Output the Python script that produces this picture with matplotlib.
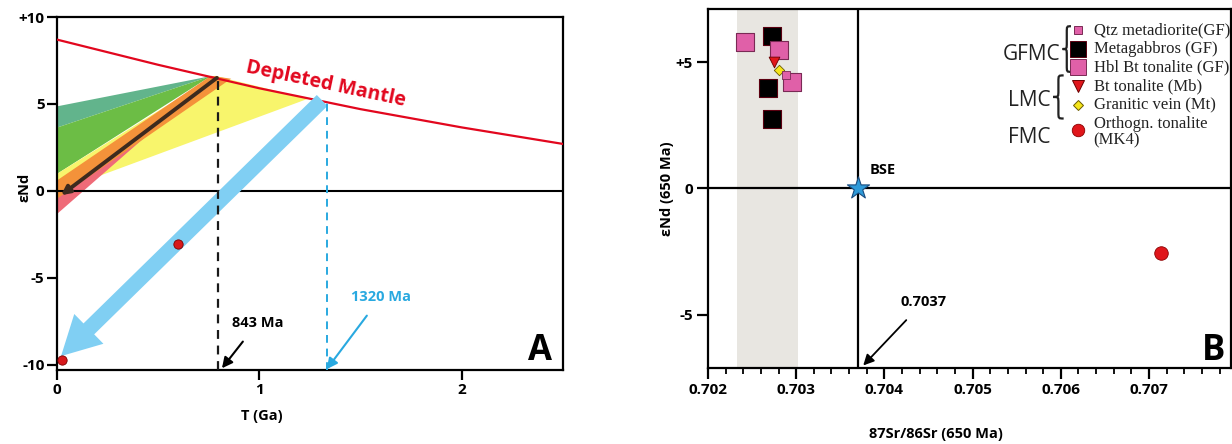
import matplotlib
matplotlib.use("Agg")
import matplotlib.pyplot as plt
from matplotlib.path import Path
from matplotlib.patches import PathPatch, Polygon

# ---------------------------------------------------------------------------
# Panel A data (T in Ga, epsilon Nd)
# ---------------------------------------------------------------------------
DM_T = [0.0, 0.5, 1.0, 1.5, 2.0, 2.5]
DM_EPS = [8.7, 7.25, 5.9, 4.7, 3.65, 2.7]

TEAL_BAND = [(0.0, 4.86), (0.76, 6.6), (0.0, 3.64)]
GREEN_BAND = [(0.0, 3.64), (0.76, 6.6), (0.0, 0.98)]
YELLOW_BAND = [(0.0, 0.98), (0.78, 6.62), (1.24, 5.3), (0.0, -0.04)]
PINK_BAND = [(0.0, 0.2), (0.0, -1.33), (0.78, 6.6)]
ORANGE_BAND = [(0.0, 0.6), (0.76, 6.62), (0.86, 6.45), (0.0, -0.45)]

DARK_ARROW = [(0.79, 6.5), (0.02, -0.25)]
BLUE_ARROW = [(1.31, 5.2), (0.02, -9.5)]
SAMPLE_T = [0.6, 0.025]
SAMPLE_EPS = [-3.06, -9.7]

T_843 = 0.795
T_1320 = 1.333
TOP_843 = 6.5
TOP_1320 = 5.2

# ---------------------------------------------------------------------------
# Panel B data (87Sr/86Sr, epsilon Nd at 650 Ma)
# ---------------------------------------------------------------------------
SR_GABBRO = [0.70272, 0.70268, 0.70272]
ND_GABBRO = [6.04, 3.96, 2.76]
SR_HBL = [0.70242, 0.70281, 0.70295]
ND_HBL = [5.80, 5.48, 4.20]
SR_QTZ = [0.70288]
ND_QTZ = [4.48]
SR_BT = [0.70275]
ND_BT = [5.0]
SR_VEIN = [0.70281]
ND_VEIN = [4.68]
SR_ORTHO = [0.70714]
ND_ORTHO = [-2.55]
BSE_SR, BSE_ND = 0.7037, 0.0
BAND_SR = (0.70233, 0.70302)

SANS = ["Open Sans", "DejaVu Sans"]
SERIF = ["Liberation Serif", "DejaVu Serif"]

RED = "#e2071e"
CYAN = "#29a9e0"
PINK = "#e060a8"

plt.rcParams["font.family"] = SANS
plt.rcParams["font.weight"] = "bold"

fig = plt.figure(figsize=(12.32, 4.44), dpi=100)
W, H = 1232.0, 444.0

# ---------------------------------------------------------------------------
# Panel A
# ---------------------------------------------------------------------------
ax1 = fig.add_axes([57 / W, 1 - 370 / H, (563 - 57) / W, (370 - 17) / H])
ax1.set_xlim(0, 2.5)
ax1.set_ylim(-10.3, 10)

for pts, col in [(TEAL_BAND, "#62b48c"), (GREEN_BAND, "#6cbd45"),
                 (YELLOW_BAND, "#f8f56c"), (PINK_BAND, "#ef6b78"),
                 (ORANGE_BAND, "#f4923a")]:
    ax1.add_patch(Polygon(pts, closed=True, facecolor=col, edgecolor="none", zorder=1))

ax1.axhline(0, color="black", lw=1.5, zorder=2)
ax1.plot(DM_T, DM_EPS, color=RED, lw=1.6, zorder=3)

ax1.annotate("", xy=DARK_ARROW[1], xytext=DARK_ARROW[0],
             arrowprops=dict(arrowstyle="-|>,head_length=0.5,head_width=0.25",
                             color="#3d2a1e", lw=2.8, shrinkA=0, shrinkB=0), zorder=4)

ax1.annotate("", xy=BLUE_ARROW[1], xytext=BLUE_ARROW[0],
             arrowprops=dict(arrowstyle="simple,head_length=1.4,head_width=1.5,tail_width=0.55",
                             mutation_scale=20, color="#80cff3", lw=0,
                             shrinkA=0, shrinkB=0), zorder=3)

ax1.plot([T_843, T_843], [-10.3, TOP_843], color="#1a1a1a", lw=1.6,
         ls=(0, (4, 3)), zorder=4)
ax1.plot([T_1320, T_1320], [-10.3, TOP_1320], color=CYAN, lw=1.4,
         ls=(0, (4, 3)), zorder=4)

ax1.scatter(SAMPLE_T, SAMPLE_EPS, s=45, color="#d7191c", edgecolor="#7a0000",
            linewidth=0.6, zorder=6, clip_on=False)

ax1.text(1.33, 6.12, "Depleted Mantle", color=RED, fontsize=14, fontweight="bold",
         rotation=-12, rotation_mode="anchor", ha="center", va="center")

ax1.annotate("843 Ma", xy=(0.815, -10.2), xytext=(0.99, -7.6),
             fontsize=10.5, fontweight="bold", ha="center", va="center",
             arrowprops=dict(arrowstyle="-|>,head_length=0.6,head_width=0.3",
                             color="black", lw=1.5, shrinkA=8, shrinkB=0))
ax1.annotate("1320 Ma", xy=(T_1320, -10.25), xytext=(1.6, -6.1),
             fontsize=10.5, fontweight="bold", color=CYAN, ha="center", va="center",
             arrowprops=dict(arrowstyle="-|>,head_length=0.6,head_width=0.3",
                             color=CYAN, lw=1.5, shrinkA=8, shrinkB=0))

ax1.text(2.385, -9.2, "A", fontsize=25, fontweight="bold", ha="center", va="center")

ax1.set_xticks([0, 1, 2])
ax1.set_xticklabels(["0", "1", "2"])
ax1.set_yticks([-10, -5, 0, 5, 10])
ax1.set_yticklabels(["-10", "-5", "0", "5", "+10"])
ax1.tick_params(direction="out", length=7, width=1.6, labelsize=11, pad=2)
for s in ax1.spines.values():
    s.set_linewidth(1.6)
ax1.set_xlabel("T (Ga)", fontsize=10.5, fontweight="bold")
ax1.xaxis.set_label_coords(0.405, -0.11)
ax1.set_ylabel("εNd", fontsize=10.5, fontweight="bold")
ax1.yaxis.set_label_coords(-0.05, 0.516)

# ---------------------------------------------------------------------------
# Panel B
# ---------------------------------------------------------------------------
ax2 = fig.add_axes([708 / W, 1 - 368 / H, (1231 - 708) / W, (368 - 9) / H])
ax2.set_xlim(0.702, 0.70793)
ax2.set_ylim(-7.1, 7.1)

ax2.axvspan(*BAND_SR, color="#e8e6e1", lw=0, zorder=0)
ax2.axhline(0, color="black", lw=1.6, zorder=1)
ax2.axvline(BSE_SR, color="black", lw=1.6, zorder=1)

ax2.scatter(SR_GABBRO, ND_GABBRO, marker="s", s=160, color="black",
            edgecolor="#5a0010", linewidth=0.8, zorder=3)
ax2.scatter(SR_HBL, ND_HBL, marker="s", s=160, color=PINK,
            edgecolor="#7a2a55", linewidth=0.8, zorder=3)
ax2.scatter(SR_BT, ND_BT, marker="v", s=60, color="#e0161b",
            edgecolor="#6a0000", linewidth=0.6, zorder=4)
ax2.scatter(SR_VEIN, ND_VEIN, marker="D", s=28, color="#f5e51b",
            edgecolor="#6a5a00", linewidth=0.6, zorder=5)
ax2.scatter(SR_QTZ, ND_QTZ, marker="s", s=40, color=PINK,
            edgecolor="#7a2a55", linewidth=0.6, zorder=5)
ax2.scatter(SR_ORTHO, ND_ORTHO, marker="o", s=95, color="#e0161b",
            edgecolor="#8a0000", linewidth=0.6, zorder=4)
ax2.scatter([BSE_SR], [BSE_ND], marker="*", s=280, color="#2f9bd9",
            edgecolor="#1a4d80", linewidth=0.8, zorder=5, clip_on=False)

ax2.text(0.70383, 0.75, "BSE", fontsize=10.5, fontweight="bold", ha="left", va="center")
ax2.annotate("0.7037", xy=(0.70376, -7.0), xytext=(0.70444, -4.5),
             fontsize=10.5, fontweight="bold", ha="center", va="center",
             arrowprops=dict(arrowstyle="-|>,head_length=0.6,head_width=0.3",
                             color="black", lw=1.3, shrinkA=8, shrinkB=0))
ax2.text(0.70773, -6.42, "B", fontsize=25, fontweight="bold", ha="center", va="center")

ax2.set_xticks([0.702, 0.703, 0.704, 0.705, 0.706, 0.707])
ax2.set_xticklabels(["0.702", "0.703", "0.704", "0.705", "0.706", "0.707"])
ax2.set_xticks([0.702 + 0.0002 * k for k in range(1, 30) if k % 5], minor=True)
ax2.set_yticks([-5, 0, 5])
ax2.set_yticklabels(["-5", "0", "+5"])
ax2.tick_params(which="major", direction="out", length=8, width=1.6, labelsize=11, pad=3)
ax2.tick_params(which="minor", direction="out", length=4, width=1.3)
for s in ax2.spines.values():
    s.set_linewidth(1.6)
ax2.set_xlabel("87Sr/86Sr (650 Ma)", fontsize=10.5, fontweight="bold")
ax2.xaxis.set_label_coords(0.435, -0.165)
ax2.set_ylabel("εNd (650 Ma)", fontsize=10.5, fontweight="bold")
ax2.yaxis.set_label_coords(-0.065, 0.5)

# legend drawn by hand (axes fraction)
leg_rows = [
    ("Qtz metadiorite(GF)", 0.9415, dict(marker="s", ms=5.5, mfc=PINK, mec="#7a2a55")),
    ("Metagabbros (GF)", 0.8886, dict(marker="s", ms=11, mfc="black", mec="#5a0010")),
    ("Hbl Bt tonalite (GF)", 0.8384, dict(marker="s", ms=11, mfc=PINK, mec="#7a2a55")),
    ("Bt tonalite (Mb)", 0.7855, dict(marker="v", ms=8, mfc="#e0161b", mec="#6a0000")),
    ("Granitic vein (Mt)", 0.7326, dict(marker="D", ms=5, mfc="#f5e51b", mec="#6a5a00")),
]
for label, y, mk in leg_rows:
    ax2.plot([0.707], [y], transform=ax2.transAxes, ls="none", mew=0.7, clip_on=False, **mk)
    ax2.text(0.7375, y, label, transform=ax2.transAxes, fontsize=12,
             family=SERIF, fontweight="normal", ha="left", va="center", color="#222222")
ax2.plot([0.707], [0.663], transform=ax2.transAxes, ls="none", marker="o", ms=9,
         mfc="#e0161b", mec="#8a0000", mew=0.6, clip_on=False)
ax2.text(0.7375, 0.6797, "Orthogn. tonalite", transform=ax2.transAxes, fontsize=12,
         family=SERIF, fontweight="normal", ha="left", va="center", color="#222222")
ax2.text(0.7375, 0.635, "(MK4)", transform=ax2.transAxes, fontsize=12,
         family=SERIF, fontweight="normal", ha="left", va="center", color="#222222")

for txt, x, y in [("GFMC", 0.674, 0.872), ("LMC", 0.655, 0.745), ("FMC", 0.655, 0.642)]:
    ax2.text(x, y, txt, transform=ax2.transAxes, fontsize=15, fontweight="normal",
             ha="right", va="center", color="#222222")


def brace(ax, x_right, x_tip, y0, y1):
    xm = (x_right + x_tip) / 2
    ym = (y0 + y1) / 2
    r = 0.018
    verts = [(x_right, y1), (xm, y1), (xm, y1), (xm, y1 - r),
             (xm, ym + r), (xm, ym), (xm, ym), (x_tip, ym),
             (xm, ym), (xm, ym), (xm, ym - r),
             (xm, y0 + r), (xm, y0), (xm, y0), (x_right, y0)]
    codes = [Path.MOVETO, Path.CURVE4, Path.CURVE4, Path.CURVE4,
             Path.LINETO, Path.CURVE4, Path.CURVE4, Path.CURVE4,
             Path.CURVE4, Path.CURVE4, Path.CURVE4,
             Path.LINETO, Path.CURVE4, Path.CURVE4, Path.CURVE4]
    ax.add_patch(PathPatch(Path(verts, codes), transform=ax.transAxes, fill=False,
                           lw=1.6, edgecolor="#222222", clip_on=False))


brace(ax2, 0.694, 0.678, 0.825, 0.952)
brace(ax2, 0.680, 0.660, 0.695, 0.815)

fig.savefig("out.png", dpi=100)
